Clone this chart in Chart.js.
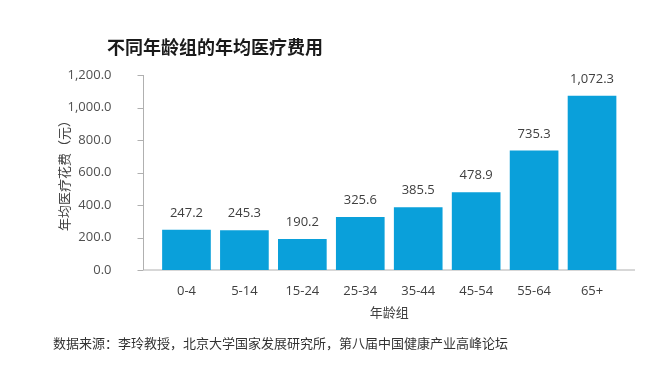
<!DOCTYPE html>
<html>
<head>
<meta charset="utf-8">
<script src="https://cdn.jsdelivr.net/npm/chart.js@4"></script>
<style>
    body { margin: 0; background: #fff; }
    #wrap { position: relative; width: 651px; height: 376px; }
    #title { position: absolute; left: 107px; top: 33px; font: bold 18px "Noto Sans CJK SC"; color: #1a1a1a; }
    #source { position: absolute; left: 53px; top: 333px; font: 13px "Noto Sans CJK SC"; color: #333; }
</style>
</head>
<body>
<div id="wrap">
    <canvas id="graph" width="651" height="376"></canvas>
    <div id="title">不同年龄组的年均医疗费用</div>
    <div id="source">数据来源：李玲教授，北京大学国家发展研究所，第八届中国健康产业高峰论坛</div>
</div>
<script>
// Chart data
const ageGroups = ["0-4", "5-14", "15-24", "25-34", "35-44", "45-54", "55-64", "65+"];
const avgCost = [247.2, 245.3, 190.2, 325.6, 385.5, 478.9, 735.3, 1072.3];
const yTicks = [0, 200, 400, 600, 800, 1000, 1200];

const fmt = v => v.toLocaleString("en-US", { minimumFractionDigits: 1, maximumFractionDigits: 1 });
const textFont = "\"Open Sans\", \"Noto Sans CJK SC\"";

// Axis lines sit a little outside the bars, like the Excel original
const axisLines = {
    id: "axisLines",
    beforeDatasetsDraw(chart) {
        const { ctx, chartArea: a, scales: { y } } = chart;
        const gap = 14;
        ctx.save();
        ctx.strokeStyle = "#b0b0b0";
        ctx.lineWidth = 1;
        ctx.beginPath();
        ctx.moveTo(a.left - gap, a.top);
        ctx.lineTo(a.left - gap, a.bottom);
        ctx.lineTo(a.right + gap, a.bottom);
        for (const t of yTicks) {
            const py = Math.round(y.getPixelForValue(t)) + 0.5;
            ctx.moveTo(a.left - gap - 6, py);
            ctx.lineTo(a.left - gap, py);
        }
        ctx.stroke();
        ctx.restore();
    }
};

// Value labels over each bar
const valueLabels = {
    id: "valueLabels",
    afterDatasetsDraw(chart) {
        const { ctx } = chart;
        ctx.save();
        ctx.font = "13px " + textFont;
        ctx.fillStyle = "#404040";
        ctx.textAlign = "center";
        ctx.textBaseline = "alphabetic";
        chart.getDatasetMeta(0).data.forEach((bar, i) => {
            ctx.fillText(fmt(avgCost[i]), bar.x, bar.y - 13);
        });
        ctx.restore();
    }
};

new Chart(document.getElementById("graph"), {
    type: "bar",
    data: {
        labels: ageGroups,
        datasets: [{
            data: avgCost,
            backgroundColor: "#0aa0da",
            barPercentage: 0.84,
            categoryPercentage: 1
        }]
    },
    options: {
        responsive: false,
        animation: false,
        layout: { padding: { top: 75, right: 30, bottom: 52, left: 0 } },
        plugins: { legend: { display: false }, tooltip: { enabled: false } },
        scales: {
            x: {
                grid: { display: false },
                border: { display: false },
                ticks: { color: "#404040", font: { size: 13, family: textFont }, padding: 5 },
                title: {
                    display: true, text: "年龄组", color: "#404040",
                    font: { size: 13, family: "\"Noto Sans CJK SC\"" },
                    padding: { top: 4, bottom: 4 }
                },
                afterFit: s => { s.height = 54; }
            },
            y: {
                min: 0, max: 1200,
                grid: { display: false },
                border: { display: false },
                afterBuildTicks: s => { s.ticks = yTicks.map(v => ({ value: v })); },
                ticks: { color: "#505050", font: { size: 13, family: textFont }, padding: 38, callback: v => fmt(v) },
                title: {
                    display: true, text: "年均医疗花费（元）", color: "#404040",
                    font: { size: 13, family: "\"Noto Sans CJK SC\"" },
                    padding: { top: 56, bottom: 0 }
                },
                afterFit: s => { s.width = 157.5; }
            }
        }
    },
    plugins: [axisLines, valueLabels]
});
</script>
</body>
</html>
